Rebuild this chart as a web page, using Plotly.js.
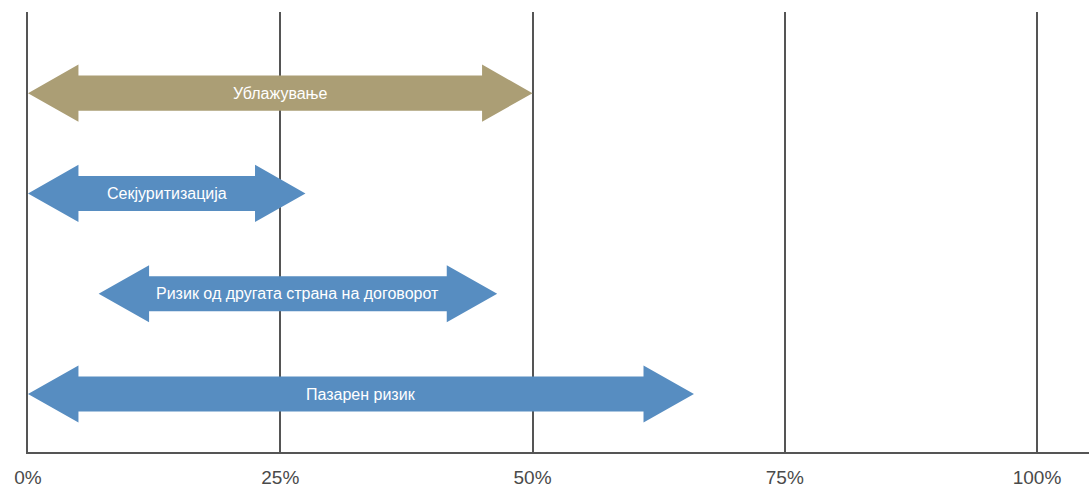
<!DOCTYPE html>
<html>
<head>
<meta charset="utf-8">
<script src="https://cdn.plot.ly/plotly-3.0.1.min.js"></script>
<style>html,body{margin:0;padding:0;background:#fff;}#chart{width:1089px;height:489px;}</style>
</head>
<body>
<div id="chart"></div>
<script>
// Data
const labels = ["Ублажување", "Секјуритизација", "Ризик од другата страна на договорот", "Пазарен ризик"];
const startPct = [0, 0, 7, 0];
const endPct = [50, 27.5, 46.5, 66];
const arrowColors = ["#ab9e75", "#578dc1", "#578dc1", "#578dc1"];
const tickValues = [0, 25, 50, 75, 100];
const tickLabels = ["0%", "25%", "50%", "75%", "100%"];

// Styles
const headLen = 5;      // in % units
const headHalf = 0.285; // in row units
const shaftHalf = 0.175;

const n = labels.length;
const traces = [];
const annotations = [];
labels.forEach((lab, i) => {
  const y = n - 1 - i;
  const a = startPct[i], b = endPct[i];
  const xs = [a, a + headLen, a + headLen, b - headLen, b - headLen, b, b - headLen, b - headLen, a + headLen, a + headLen, a];
  const ys = [y, y + headHalf, y + shaftHalf, y + shaftHalf, y + headHalf, y, y - headHalf, y - shaftHalf, y - shaftHalf, y - headHalf, y];
  traces.push({
    type: 'scatter', mode: 'lines', x: xs, y: ys, fill: 'toself',
    fillcolor: arrowColors[i], line: {width: 0, color: arrowColors[i]},
    hoverinfo: 'skip', showlegend: false
  });
  annotations.push({
    x: (a + b) / 2, y: y, xref: 'x', yref: 'y', text: lab, showarrow: false,
    font: {family: 'Liberation Sans, Arial, sans-serif', size: 16, color: '#ffffff'}
  });
});

const layout = {
  width: 1089, height: 489,
  margin: {l: 28, r: 0, t: 12, b: 37},
  paper_bgcolor: '#ffffff', plot_bgcolor: '#ffffff',
  showlegend: false,
  xaxis: {
    range: [0, 105.15], tickvals: tickValues, ticktext: tickLabels,
    showgrid: true, gridcolor: '#555555', gridwidth: 2,
    zeroline: false, showline: true, linecolor: '#555555', linewidth: 2,
    ticks: 'outside', ticklen: 7, tickcolor: 'rgba(0,0,0,0)',
    tickfont: {family: 'Liberation Sans, Arial, sans-serif', size: 19, color: '#4a4a4a'},
    fixedrange: true
  },
  yaxis: {
    range: [-0.578, 3.809], showticklabels: false, showgrid: false, zeroline: false,
    showline: true, linecolor: '#555555', linewidth: 2, ticks: '', fixedrange: true
  },
  annotations: annotations
};

Plotly.newPlot('chart', traces, layout, {displayModeBar: false, staticPlot: true});
</script>
</body>
</html>
